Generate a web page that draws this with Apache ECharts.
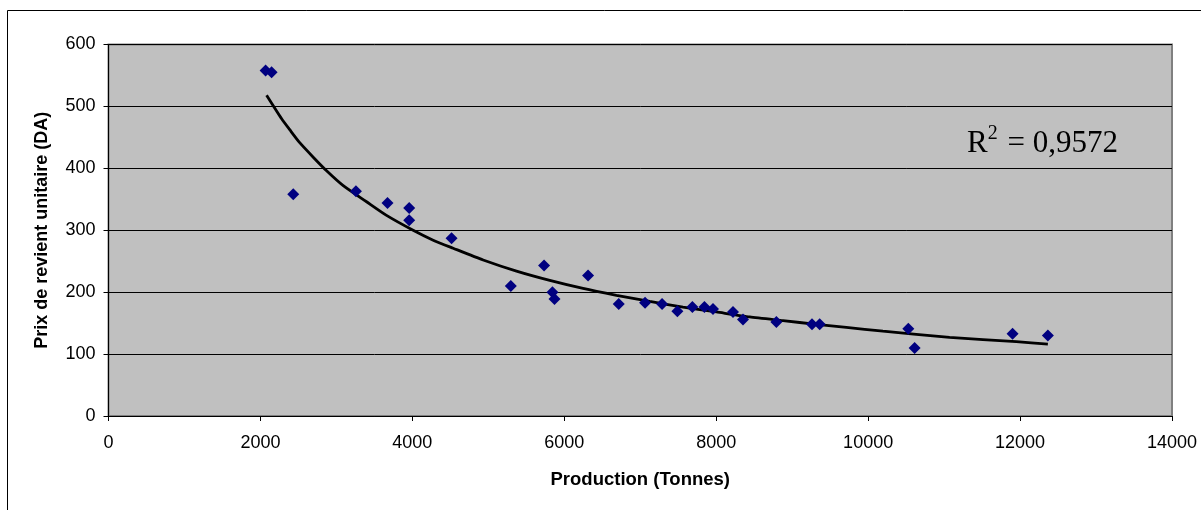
<!DOCTYPE html>
<html>
<head>
<meta charset="utf-8">
<script src="https://cdn.jsdelivr.net/npm/echarts@6/dist/echarts.min.js"></script>
<style>
html,body{margin:0;padding:0;background:#fff;}
#c{width:1201px;height:510px;}
</style>
</head>
<body>
<div id="c"></div>
<script>
// Observed points: production (tonnes) and unit cost price (DA)
const production = [2068, 2147, 2432, 3257, 3673, 3958, 3958, 4516, 5296, 5734, 5844, 5871, 6313, 6717, 7063, 7287, 7489, 7686, 7845, 7958, 8221, 8353, 8792, 9261, 9362, 10529, 10612, 11901, 12366];
const prix = [558, 555, 358, 363, 344, 336, 316, 287, 210, 243, 200, 189, 227, 181, 183, 181, 169, 176, 176, 173, 168, 156, 152, 148, 148, 141, 110, 133, 130];

// Trendline
const trendX = [2081, 2279, 2388, 2520, 2695, 2871, 3090, 3397, 3660, 4010, 4274, 4537, 4932, 5371, 5809, 6247, 6687, 7125, 7563, 8003, 8441, 8879, 9318, 9713, 10195, 11072, 11950, 12366];
const trendY = [518, 480, 462, 441, 418, 396, 372, 346, 324, 300, 284, 271, 252, 234, 219, 206, 195, 185, 176, 168, 160, 154, 148, 143, 137, 127, 120, 116];

const xTicks = [0, 2000, 4000, 6000, 8000, 10000, 12000, 14000];
const yTicks = [0, 100, 200, 300, 400, 500, 600];
const r2Label = '0,9572';

const chart = echarts.init(document.getElementById('c'));
const sansFont = '"Liberation Sans", Arial, sans-serif';

chart.setOption({
  animation: false,
  backgroundColor: '#ffffff',
  grid: {
    left: 108.5, right: 29, top: 44.5, bottom: 94,
    show: true, backgroundColor: '#C0C0C0', borderColor: '#808080', borderWidth: 2
  },
  xAxis: {
    type: 'value', min: xTicks[0], max: xTicks[xTicks.length - 1], interval: 2000,
    name: 'Production (Tonnes)', nameLocation: 'middle', nameGap: 54,
    nameTextStyle: { fontFamily: sansFont, fontWeight: 'bold', fontSize: 18.5, color: '#000' },
    axisLine: { show: true, onZero: false, lineStyle: { color: '#000', width: 1 } },
    axisTick: { show: true, inside: false, length: 5, lineStyle: { color: '#000' } },
    axisLabel: { fontFamily: sansFont, fontSize: 18, color: '#000', margin: 18, formatter: v => String(v) },
    splitLine: { show: false }
  },
  yAxis: {
    type: 'value', min: yTicks[0], max: yTicks[yTicks.length - 1], interval: 100,
    name: 'Prix de revient unitaire (DA)', nameLocation: 'middle', nameGap: 57,
    nameTextStyle: { fontFamily: sansFont, fontWeight: 'bold', fontSize: 18, color: '#000' },
    axisLine: { show: true, lineStyle: { color: '#000', width: 1 } },
    axisTick: { show: true, inside: false, length: 5, lineStyle: { color: '#000' } },
    axisLabel: { fontFamily: sansFont, fontSize: 18, color: '#000', margin: 13, formatter: v => String(v) },
    splitLine: { show: true, lineStyle: { color: '#000', width: 1 } }
  },
  series: [
    {
      type: 'line',
      data: trendX.map((x, i) => [x, trendY[i]]),
      smooth: 0.2,
      showSymbol: false,
      lineStyle: { color: '#000', width: 2.8 },
      z: 2
    },
    {
      type: 'scatter',
      data: production.map((x, i) => [x, prix[i]]),
      symbol: 'diamond',
      symbolSize: [12, 12],
      itemStyle: { color: '#000080', opacity: 1 },
      z: 3
    }
  ],
  graphic: [
    {
      type: 'rect', silent: true, z: -1,
      shape: { x: 7.5, y: 10.5, width: 1250, height: 560 },
      style: { fill: 'none', stroke: '#000', lineWidth: 1 }
    },
    {
      type: 'text', left: 967, top: 119, z: 10,
      style: {
        text: '{r|R}{s|2}{r| = ' + r2Label + '}',
        rich: {
          r: { fontFamily: '"Liberation Serif", "Times New Roman", serif', fontSize: 31, color: '#000', lineHeight: 40, verticalAlign: 'bottom' },
          s: { fontFamily: '"Liberation Serif", "Times New Roman", serif', fontSize: 20, color: '#000', lineHeight: 40, verticalAlign: 'top', padding: [5, 2, 0, 0] }
        }
      }
    }
  ]
});
</script>
</body>
</html>
